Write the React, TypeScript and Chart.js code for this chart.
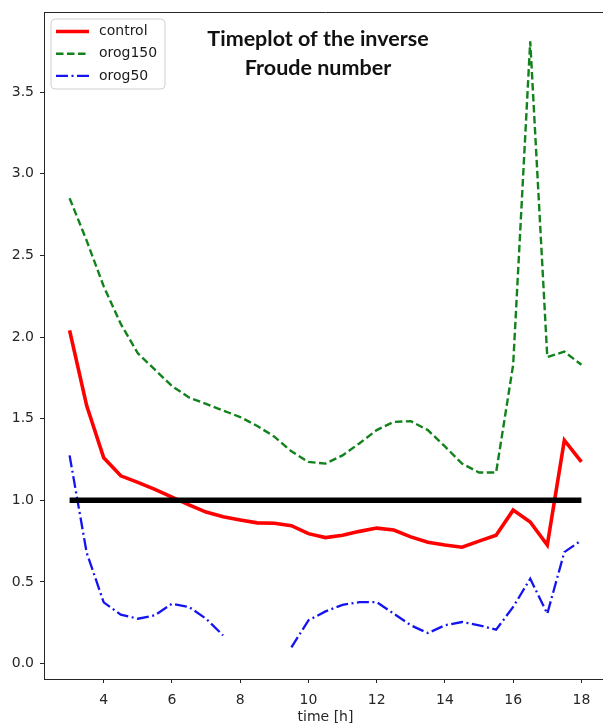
import React, { useEffect, useRef } from "react";
import { Chart, registerables } from "chart.js";

Chart.register(...registerables);

const times = [3, 3.5, 4, 4.5, 5, 5.5, 6, 6.5, 7, 7.5, 8, 8.5, 9, 9.5, 10, 10.5, 11, 11.5, 12, 12.5, 13, 13.5, 14, 14.5, 15, 15.5, 16, 16.5, 17, 17.5, 18];
const control = [2.04, 1.58, 1.26, 1.15, 1.11, 1.067, 1.02, 0.972, 0.928, 0.9, 0.88, 0.862, 0.86, 0.845, 0.796, 0.772, 0.786, 0.81, 0.83, 0.818, 0.776, 0.743, 0.726, 0.713, 0.75, 0.786, 0.94, 0.867, 0.726, 1.368, 1.235];
const orog150 = [2.85, 2.59, 2.31, 2.08, 1.9, 1.8, 1.7, 1.63, 1.59, 1.55, 1.51, 1.455, 1.39, 1.3, 1.235, 1.225, 1.275, 1.35, 1.43, 1.48, 1.485, 1.43, 1.33, 1.225, 1.17, 1.17, 1.83, 3.81, 1.877, 1.91, 1.83];
const orog50 = [1.275, 0.68, 0.375, 0.3, 0.275, 0.296, 0.367, 0.347, 0.275, 0.173, null, null, null, 0.1, 0.265, 0.32, 0.36, 0.377, 0.377, 0.306, 0.235, 0.187, 0.235, 0.255, 0.235, 0.208, 0.347, 0.52, 0.306, 0.683, 0.755];
const thresholdTimes = [3, 18];
const thresholdValues = [1, 1];
const yTicks = [0, 0.5, 1, 1.5, 2, 2.5, 3, 3.5];
const xTicks = [4, 6, 8, 10, 12, 14, 16, 18];
const titleLines = ["Timeplot of the inverse", "Froude number"];
const xLabel = "time [h]";
const seriesNames = ["control", "orog150", "orog50"];

const toPoints = (xs: number[], ys: (number | null)[]) => xs.map((x, i) => ({ x, y: ys[i] }));

const TICK_FONT = { family: "'DejaVu Sans', sans-serif", size: 14 };
const AXIS_COLOR = "#262626";

export default function App() {
  const ref = useRef<HTMLCanvasElement | null>(null);

  useEffect(() => {
    if (!ref.current) return;
    const styles = [
      { color: "#ff0000", width: 3.6, dash: [] as number[] },
      { color: "#12821c", width: 2.4, dash: [7.5, 3.5] },
      { color: "#1414f0", width: 2.3, dash: [12, 3.5, 2, 3.5] },
    ];

    const overlay = {
      id: "overlay",
      afterDraw(chart: any) {
        const { ctx, chartArea } = chart;
        const { left, top, right, bottom } = chartArea;
        ctx.save();
        // top & right spines
        ctx.strokeStyle = AXIS_COLOR;
        ctx.lineWidth = 1;
        ctx.beginPath();
        ctx.moveTo(left, top + 0.5);
        ctx.lineTo(right, top + 0.5);
        ctx.moveTo(right - 0.5, top);
        ctx.lineTo(right - 0.5, bottom);
        ctx.stroke();

        // title annotation
        ctx.fillStyle = "#111";
        ctx.font = "bold 21.5px Lato, 'Open Sans', sans-serif";
        ctx.textAlign = "center";
        ctx.textBaseline = "middle";
        const cx = left + 274;
        titleLines.forEach((t, i) => ctx.fillText(t, cx, top + 27.5 + i * 28.5));

        // legend
        const bx = left + 7, by = top + 7, bw = 114, bh = 70, r = 4;
        ctx.beginPath();
        ctx.moveTo(bx + r, by);
        ctx.lineTo(bx + bw - r, by);
        ctx.quadraticCurveTo(bx + bw, by, bx + bw, by + r);
        ctx.lineTo(bx + bw, by + bh - r);
        ctx.quadraticCurveTo(bx + bw, by + bh, bx + bw - r, by + bh);
        ctx.lineTo(bx + r, by + bh);
        ctx.quadraticCurveTo(bx, by + bh, bx, by + bh - r);
        ctx.lineTo(bx, by + r);
        ctx.quadraticCurveTo(bx, by, bx + r, by);
        ctx.closePath();
        ctx.fillStyle = "rgba(255,255,255,0.85)";
        ctx.fill();
        ctx.strokeStyle = "#d0d0d0";
        ctx.lineWidth = 1;
        ctx.stroke();

        ctx.font = "14px 'DejaVu Sans', sans-serif";
        ctx.textAlign = "left";
        ctx.textBaseline = "middle";
        seriesNames.forEach((name, i) => {
          const ly = by + 12.5 + i * 22.2;
          const s = styles[i];
          ctx.strokeStyle = s.color;
          ctx.lineWidth = s.width;
          ctx.setLineDash(s.dash);
          ctx.beginPath();
          ctx.moveTo(bx + 5, ly);
          ctx.lineTo(bx + 38, ly);
          ctx.stroke();
          ctx.setLineDash([]);
          ctx.fillStyle = "#1a1a1a";
          ctx.fillText(name, bx + 48, ly);
        });
        ctx.restore();
      },
    };

    const chart = new Chart(ref.current, {
      type: "line",
      data: {
        datasets: [
          {
            label: "threshold",
            data: toPoints(thresholdTimes, thresholdValues),
            borderColor: "#000000",
            borderWidth: 5.5,
            pointRadius: 0,
            order: 0,
          },
          {
            label: seriesNames[2],
            data: toPoints(times, orog50),
            borderColor: styles[2].color,
            borderWidth: styles[2].width,
            borderDash: styles[2].dash,
            pointRadius: 0,
            spanGaps: false,
            order: 1,
          },
          {
            label: seriesNames[1],
            data: toPoints(times, orog150),
            borderColor: styles[1].color,
            borderWidth: styles[1].width,
            borderDash: styles[1].dash,
            pointRadius: 0,
            order: 2,
          },
          {
            label: seriesNames[0],
            data: toPoints(times, control),
            borderColor: styles[0].color,
            borderWidth: styles[0].width,
            pointRadius: 0,
            order: 3,
          },
        ],
      },
      options: {
        animation: false,
        responsive: false,
        maintainAspectRatio: false,
        layout: { padding: { top: 12, right: 3, left: 0, bottom: 0 } },
        plugins: { legend: { display: false }, tooltip: { enabled: false }, title: { display: false } },
        elements: { line: { tension: 0, borderJoinStyle: "miter" } },
        scales: {
          x: {
            type: "linear",
            min: 2.25,
            max: 18.75,
            afterBuildTicks: (s: any) => {
              s.ticks = xTicks.map((v) => ({ value: v }));
            },
            afterFit: (s: any) => {
              s.height = 44;
              s.paddingLeft = 0;
              s.paddingRight = 0;
            },
            ticks: { font: TICK_FONT, color: AXIS_COLOR, padding: 9, maxRotation: 0, autoSkip: false },
            grid: { display: true, drawOnChartArea: false, drawTicks: true, tickLength: 4, tickColor: AXIS_COLOR },
            border: { display: true, color: AXIS_COLOR, width: 1 },
            title: {
              display: true,
              text: xLabel,
              color: AXIS_COLOR,
              font: { family: "'DejaVu Sans', sans-serif", size: 14, lineHeight: 1 },
              padding: { top: 0, bottom: -1.5 },
            },
          },
          y: {
            type: "linear",
            min: -0.094,
            max: 3.99,
            afterBuildTicks: (s: any) => {
              s.ticks = yTicks.map((v) => ({ value: v }));
            },
            afterFit: (s: any) => {
              s.width = 44;
              s.paddingTop = 0;
              s.paddingBottom = 0;
            },
            ticks: {
              font: TICK_FONT,
              color: AXIS_COLOR,
              padding: 6,
              callback: (v: any) => Number(v).toFixed(1),
            },
            grid: { display: true, drawOnChartArea: false, drawTicks: true, tickLength: 4, tickColor: AXIS_COLOR },
            border: { display: true, color: AXIS_COLOR, width: 1 },
          },
        },
      },
      plugins: [overlay],
    } as any);
    return () => chart.destroy();
  }, []);

  return (
    <div style={{ position: "absolute", left: 0, top: 0, width: 603, height: 723, overflow: "hidden", background: "#fff" }}>
      <canvas ref={ref} width={610} height={723} style={{ width: 610, height: 723, display: "block" }} />
    </div>
  );
}
